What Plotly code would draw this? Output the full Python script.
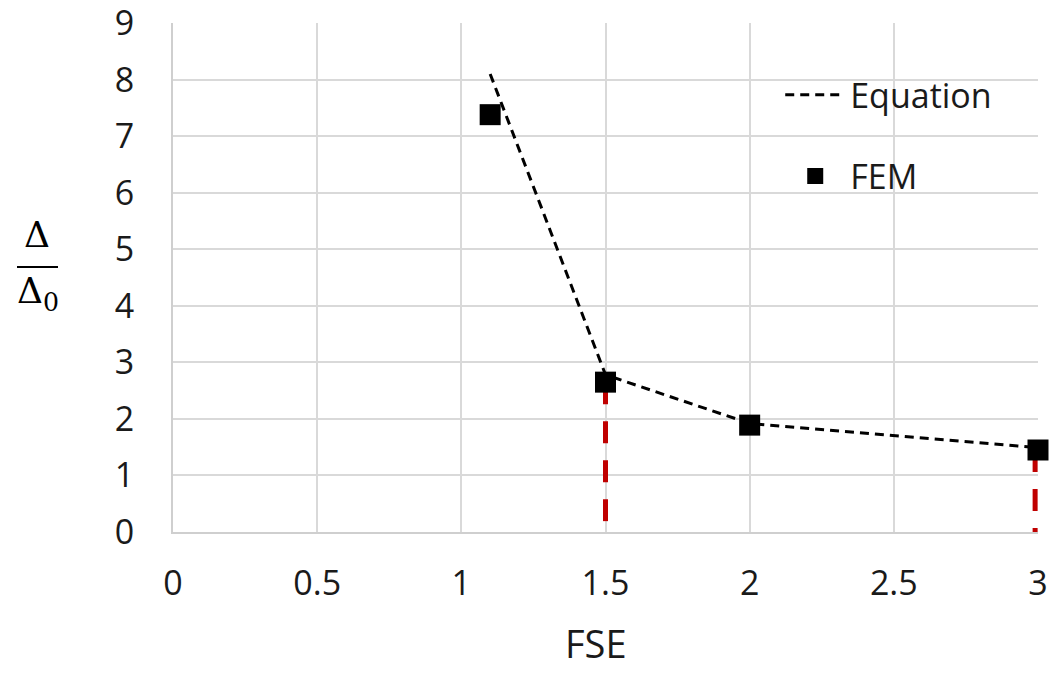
import plotly.graph_objects as go

# Data
fse_eq = [1.1, 1.5, 2, 3]
ratio_eq = [8.1, 2.78, 1.92, 1.49]

fse_fem = [1.1, 1.5, 2, 3]
ratio_fem = [7.38, 2.65, 1.89, 1.45]

# red vertical drop lines (x, top value, bottom value)
drop_x = [1.5, 2.99]
drop_top = [2.65, 1.45]
drop_bottom = [0, 0]

x_ticks = [0, 0.5, 1, 1.5, 2, 2.5, 3]
x_tick_labels = ["0", "0.5", "1", "1.5", "2", "2.5", "3"]
y_ticks = list(range(0, 10))

FONT = "Open Sans"
TXT = "#1a1a1a"

fig = go.Figure()

# red dashed drop lines
for xv, top, bot in zip(drop_x, drop_top, drop_bottom):
    fig.add_trace(go.Scatter(
        x=[xv, xv], y=[top, bot], mode="lines",
        line=dict(color="#C00000", width=5, dash="22px,17px"),
        showlegend=False, hoverinfo="skip",
    ))

fig.add_trace(go.Scatter(
    x=fse_eq, y=ratio_eq, mode="lines", name="Equation",
    line=dict(color="black", width=3, dash="9px,6px"),
    legendgroup="eq",
))

fig.add_trace(go.Scatter(
    x=fse_fem, y=ratio_fem, mode="markers", name="FEM",
    marker=dict(symbol="square", size=21, color="black"),
    legendgroup="fem", cliponaxis=False,
))

fig.update_layout(
    width=1053, height=673,
    margin=dict(l=173, r=15, t=23, b=141, autoexpand=False),
    paper_bgcolor="white", plot_bgcolor="white",
    font=dict(family=FONT, size=34, color=TXT),
    legend=dict(
        x=0.702, y=0.915, xanchor="left", yanchor="top",
        bgcolor="rgba(0,0,0,0)", borderwidth=0,
        font=dict(size=34, family=FONT, color=TXT),
        tracegroupgap=34, traceorder="grouped",
        itemwidth=60,
    ),
    xaxis=dict(
        range=[0, 3], tickvals=x_ticks, ticktext=x_tick_labels,
        showgrid=True, gridcolor="#d9d9d9", gridwidth=2,
        zeroline=False, showline=True, linecolor="#cfcfcf", linewidth=2,
        ticks="", ticklabelstandoff=20, automargin=False,
        ticklabeloverflow="allow",
        tickfont=dict(size=34, family=FONT, color=TXT),
    ),
    yaxis=dict(
        range=[0, 9.001], tickvals=y_ticks,
        showgrid=True, gridcolor="#d9d9d9", gridwidth=2,
        zeroline=False, showline=True, linecolor="#cfcfcf", linewidth=2,
        ticks="", ticklabelstandoff=30, automargin=False,
        ticklabeloverflow="allow",
        tickfont=dict(size=34, family=FONT, color=TXT),
    ),
)

# x-axis title (kept inside the page)
fig.add_annotation(
    xref="paper", yref="paper", x=(596 - 173) / 865, y=(532 - 671) / 509,
    text="FSE", showarrow=False, xanchor="center", yanchor="bottom",
    font=dict(family=FONT, size=38, color=TXT),
)

# y-axis title as a fraction  Δ / Δ0
fig.add_annotation(
    xref="paper", yref="paper", x=(37 - 173) / 865, y=(532 - 234) / 509,
    text="Δ", showarrow=False, xanchor="center", yanchor="middle",
    font=dict(family="DejaVu Serif", size=36, color="black"),
)
fig.add_annotation(
    xref="paper", yref="paper", x=(38 - 173) / 865, y=(532 - 293) / 509,
    text="Δ<sub>0</sub>", showarrow=False, xanchor="center", yanchor="middle",
    font=dict(family="DejaVu Serif", size=36, color="black"),
)
fig.add_shape(
    type="line", xref="paper", yref="paper",
    x0=(17 - 173) / 865, x1=(58 - 173) / 865,
    y0=(532 - 267) / 509, y1=(532 - 267) / 509,
    line=dict(color="black", width=2),
)

fig.write_html("out.html")
